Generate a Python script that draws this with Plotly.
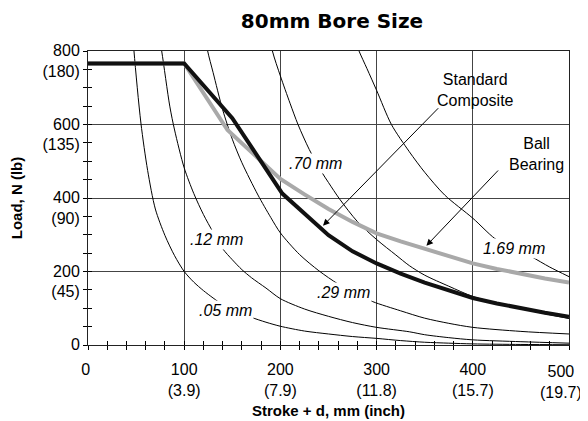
import plotly.graph_objects as go

# ---------------- data ----------------
x_ticks = [0, 100, 200, 300, 400, 500]
x_ticktext = ["0\u00a0", "100<br>(3.9)", "200<br>(7.9)", "300<br>(11.8)", "400<br>(15.7)", ""]
x_last_label = "500<br>(19.7)"   # drawn separately, nudged left like the reference
y_ticks = [0, 200, 400, 600, 800]
y_ticktext = ["0<br>\u00a0", "200<br>(45)", "400<br>(90)", "600<br>(135)", "800<br>(180)"]

# deflection curves
d05_x = [44, 47.8, 55, 62, 70, 80, 90, 100, 110, 120, 130, 140, 155, 170, 185, 200, 225, 250, 275, 300, 325, 350, 375, 400, 450, 500]
d05_y = [944, 800, 604, 475, 370, 298, 243, 200, 171, 148, 128, 110, 90, 75, 62, 51, 38, 30, 23, 18, 12, 7.5, 5, 3, 1.5, 0.7]

d12_x = [72, 76.6, 85, 90, 100, 110, 120, 130, 140, 150, 160, 170, 185, 200, 225, 250, 275, 300, 334, 350, 375, 400, 450, 500]
d12_y = [870, 800, 650, 585, 482, 412, 355, 307, 262, 232, 205, 183, 155, 126, 98, 78, 61, 48, 36, 28, 20, 14, 9, 5]

d29_x = [121, 124.4, 130, 140, 150, 160, 176.7, 190, 200, 220, 240, 260, 280, 296, 325, 350, 375, 400, 450, 500]
d29_y = [860, 800, 742, 640, 560, 496, 408, 347, 305, 246, 202, 166, 138, 118, 93, 73, 59, 48, 37, 30]

d70_x = [185, 191.7, 200, 210, 218.3, 230, 242.6, 250, 261.6, 280, 300, 320, 334, 350, 375, 400, 425, 450, 475, 500]
d70_y = [893, 800, 732, 658, 600, 532, 472, 442, 397, 336, 287, 245, 216, 190, 160, 132, 114, 99, 85, 72]

d169_x = [275, 281.7, 290, 300, 315.4, 334, 350, 370.8, 400, 422.8, 440, 461, 480, 500]
d169_y = [845, 800, 752, 693, 600, 526, 470, 408, 345, 290, 265, 240, 212, 186]

# load curves
composite_x = [0, 100, 150, 202, 250, 275, 300, 325, 350, 375, 400, 425, 450, 475, 500]
composite_y = [766, 766, 617, 412, 299, 255, 222, 194, 170, 148, 128, 113, 100, 88, 77]

ball_x = [0, 100, 145, 200, 225, 250, 275, 300, 325, 350, 375, 400, 425, 450, 475, 500]
ball_y = [766, 766, 585, 452, 410, 370, 335, 304, 282, 262, 241, 222, 207, 193, 181, 170]

labels = [".05 mm", ".12 mm", ".29 mm", ".70 mm", "1.69 mm"]
label_x = [143, 134, 266, 237, 443]
label_y = [95, 286, 142, 494, 263]

# ---------------- figure ----------------
# the page body has an 8px margin, so the figure is sized/margined to land
# the plot area at the same window pixels as the reference
FONT = "Liberation Sans, Arial, sans-serif"
W, H = 580, 413
fig = go.Figure()

for xs, ys in [(d05_x, d05_y), (d12_x, d12_y), (d29_x, d29_y), (d70_x, d70_y), (d169_x, d169_y)]:
    fig.add_trace(go.Scatter(x=xs, y=ys, mode="lines",
                             line=dict(color="black", width=1, shape="spline", smoothing=0.8),
                             showlegend=False, hoverinfo="skip"))

fig.add_trace(go.Scatter(x=ball_x, y=ball_y, mode="lines",
                         line=dict(color="#a9a9a9", width=4), showlegend=False))
fig.add_trace(go.Scatter(x=composite_x, y=composite_y, mode="lines",
                         line=dict(color="#111111", width=4), showlegend=False))
# empty trace that carries the overlay axes (inside half of crossing ticks)
fig.add_trace(go.Scatter(x=[], y=[], xaxis="x2", yaxis="y2", showlegend=False))

for t, lx, ly in zip(labels, label_x, label_y):
    fig.add_annotation(x=lx, y=ly, text="<i>" + t + "</i>", showarrow=False,
                       bgcolor="white", borderpad=1,
                       font=dict(family=FONT, size=16, color="black"))

fig.add_annotation(x=x_ticks[-1], y=0, xref="x", yref="paper", text=x_last_label,
                   showarrow=False, xanchor="center", yanchor="top", xshift=-8, yshift=-17,
                   align="center", borderpad=0,
                   font=dict(family=FONT, size=16, color="black"))

fig.add_annotation(x=402.5, y=695, text="Standard<br>Composite", showarrow=False,
                   font=dict(family=FONT, size=16, color="black"), align="center")
fig.add_annotation(x=466.5, y=519, text="Ball<br>Bearing", showarrow=False,
                   font=dict(family=FONT, size=16, color="black"), align="center")
fig.add_annotation(x=244.3, y=324.6, ax=365.6, ay=648.4, axref="x", ayref="y",
                   xref="x", yref="y", text="", showarrow=True,
                   arrowhead=2, arrowsize=1.3, arrowwidth=1, arrowcolor="black")
fig.add_annotation(x=351.8, y=270.2, ax=427.8, ay=479, axref="x", ayref="y",
                   xref="x", yref="y", text="", showarrow=True,
                   arrowhead=2, arrowsize=1.3, arrowwidth=1, arrowcolor="black")

grid_col = "#444444"
fig.update_layout(
    width=W, height=H,
    margin=dict(l=80, r=19, t=43, b=76, autoexpand=False),
    paper_bgcolor="white", plot_bgcolor="white",
    font=dict(family=FONT, size=16, color="black"),
    title=dict(text="<b>80mm Bore Size</b>", x=324 / W, xref="container", xanchor="center",
               y=1 - 13 / H, yref="container", yanchor="middle",
               font=dict(family="DejaVu Sans, sans-serif", size=20, color="black")),
    xaxis=dict(range=[0, 500], tickvals=x_ticks, ticktext=x_ticktext, automargin=False,
               showgrid=True, gridcolor=grid_col, gridwidth=1,
               showline=True, linecolor="#222222", linewidth=1, mirror=True,
               ticks="outside", ticklen=4, tickcolor="black", ticklabelstandoff=6,
               ticklabeloverflow="allow",
               minor=dict(dtick=20, ticks="outside", ticklen=4, tickcolor="black", showgrid=False),
               zeroline=False, tickfont=dict(size=16),
               title=dict(text="<b>Stroke + d, mm (inch)</b>", font=dict(size=15), standoff=7)),
    yaxis=dict(range=[0, 800], tickvals=y_ticks, ticktext=y_ticktext, automargin=False,
               showgrid=True, gridcolor=grid_col, gridwidth=1,
               showline=True, linecolor="#222222", linewidth=1, mirror=True,
               ticks="outside", ticklen=4, tickcolor="black", ticklabelshift=10,
               ticklabeloverflow="allow",
               minor=dict(dtick=50, ticks="outside", ticklen=4, tickcolor="black", showgrid=False),
               zeroline=False, tickfont=dict(size=16),
               title=dict(text="<b>Load, N (lb)</b>", font=dict(size=15), standoff=18)),
    xaxis2=dict(range=[0, 500], overlaying="x", tickvals=x_ticks, showticklabels=False,
                showgrid=False, zeroline=False, showline=False, automargin=False,
                ticks="inside", ticklen=4, tickcolor="black",
                minor=dict(dtick=20, ticks="inside", ticklen=4, tickcolor="black")),
    yaxis2=dict(range=[0, 800], overlaying="y", tickvals=y_ticks, showticklabels=False,
                showgrid=False, zeroline=False, showline=False, automargin=False,
                ticks="inside", ticklen=4, tickcolor="black",
                minor=dict(dtick=50, ticks="inside", ticklen=4, tickcolor="black")),
)

fig.write_html("out.html")
